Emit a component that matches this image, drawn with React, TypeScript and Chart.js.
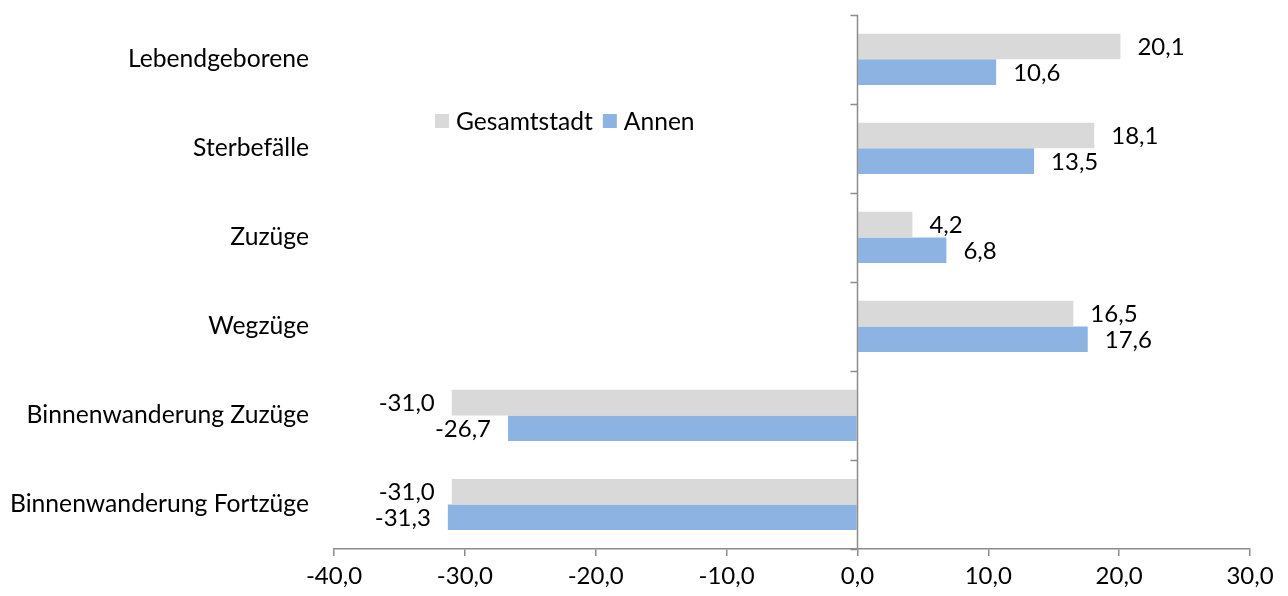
import React, { useEffect, useRef } from "react";
import { Chart, registerables } from "chart.js";

Chart.register(...registerables);

const categories = [
  "Lebendgeborene",
  "Sterbefälle",
  "Zuzüge",
  "Wegzüge",
  "Binnenwanderung Zuzüge",
  "Binnenwanderung Fortzüge",
];
const gesamtstadt = [20.1, 18.1, 4.2, 16.5, -31.0, -31.0];
const annen = [10.6, 13.5, 6.8, 17.6, -26.7, -31.3];
const seriesNames = ["Gesamtstadt", "Annen"];
const xMin = -40;
const xMax = 30;
const xStep = 10;

const FONT = "Lato";
const FS = 24;
const GRAY = "#d9d9d9";
const BLUE = "#8db3e2";
const AXIS = "#8c8c8c";

const fmt = (v: number) => v.toFixed(1).replace(".", ",");

const zeroAxisPlugin = {
  id: "zeroAxis",
  afterDatasetsDraw(chart: any) {
    const { ctx, chartArea, scales } = chart;
    const x = Math.round(scales.x.getPixelForValue(0)) + 0.5;
    ctx.save();
    ctx.strokeStyle = AXIS;
    ctx.lineWidth = 1.5;
    ctx.beginPath();
    ctx.moveTo(x, chartArea.top);
    ctx.lineTo(x, chartArea.bottom);
    for (let i = 0; i <= categories.length; i++) {
      const y = Math.round(scales.y.getPixelForValue(i - 0.5)) + 0.5;
      ctx.moveTo(x - 7, y);
      ctx.lineTo(x, y);
    }
    ctx.stroke();
    ctx.restore();
  },
};

const labelPlugin = {
  id: "barLabels",
  afterDatasetsDraw(chart: any) {
    const { ctx } = chart;
    ctx.save();
    ctx.font = `${FS}px ${FONT}`;
    ctx.fillStyle = "#000";
    ctx.textBaseline = "middle";
    chart.data.datasets.forEach((ds: any, di: number) => {
      const meta = chart.getDatasetMeta(di);
      meta.data.forEach((bar: any, i: number) => {
        const v = ds.data[i];
        const t = fmt(v);
        if (v >= 0) {
          ctx.textAlign = "left";
          ctx.fillText(t, bar.x + 17, bar.y + 1);
        } else {
          ctx.textAlign = "right";
          ctx.fillText(t, bar.x - 17, bar.y + 1);
        }
      });
    });
    ctx.restore();
  },
};

const legendPlugin = {
  id: "customLegend",
  afterDraw(chart: any) {
    const { ctx } = chart;
    ctx.save();
    ctx.font = `24.6px ${FONT}`;
    ctx.textBaseline = "middle";
    ctx.textAlign = "left";
    let x = 435;
    const y = 121;
    chart.data.datasets.forEach((ds: any) => {
      ctx.fillStyle = ds.backgroundColor;
      ctx.fillRect(x, y - 7, 14, 14);
      ctx.fillStyle = "#000";
      ctx.fillText(ds.label, x + 21, y + 1);
      x += 21 + ctx.measureText(ds.label).width + 10;
    });
    ctx.restore();
  },
};

export default function App() {
  const ref = useRef<HTMLCanvasElement | null>(null);
  useEffect(() => {
    if (!ref.current) return;
    const chart = new Chart(ref.current, {
      type: "bar",
      data: {
        labels: categories,
        datasets: [
          {
            label: seriesNames[0],
            data: gesamtstadt,
            backgroundColor: GRAY,
            barPercentage: 1,
            categoryPercentage: 0.575,
          },
          {
            label: seriesNames[1],
            data: annen,
            backgroundColor: BLUE,
            barPercentage: 1,
            categoryPercentage: 0.575,
          },
        ],
      },
      options: {
        indexAxis: "y",
        animation: false,
        responsive: false,
        maintainAspectRatio: false,
        layout: { padding: { left: 0, right: 38, top: 14, bottom: 0 } },
        plugins: {
          legend: { display: false },
          tooltip: { enabled: false },
        },
        scales: {
          x: {
            type: "linear",
            min: xMin,
            max: xMax,
            ticks: {
              stepSize: xStep,
              color: "#000",
              font: { family: FONT, size: FS },
              padding: 6,
              callback: (v: any) => fmt(Number(v)),
              maxRotation: 0,
            },
            grid: {
              drawOnChartArea: false,
              drawTicks: true,
              tickLength: 7,
              color: AXIS,
              lineWidth: 1.5,
            },
            border: { display: true, color: AXIS, width: 1.5 },
            afterFit: (s: any) => {
              s.height = 47;
            },
          },
          y: {
            type: "category",
            ticks: {
              color: "#000",
              font: { family: FONT, size: 24.7 },
              padding: 0,
            },
            grid: { display: false, drawTicks: true, tickLength: 25 },
            border: { display: false },
            afterFit: (s: any) => {
              s.width = 334;
            },
          },
        },
      },
      plugins: [zeroAxisPlugin, labelPlugin, legendPlugin],
    });
    return () => chart.destroy();
  }, []);
  return (
    <div style={{ position: "fixed", left: 0, top: 0, width: 1288, height: 596, background: "#fff" }}>
      <canvas ref={ref} width={1288} height={596} style={{ width: 1288, height: 596, display: "block" }} />
    </div>
  );
}
